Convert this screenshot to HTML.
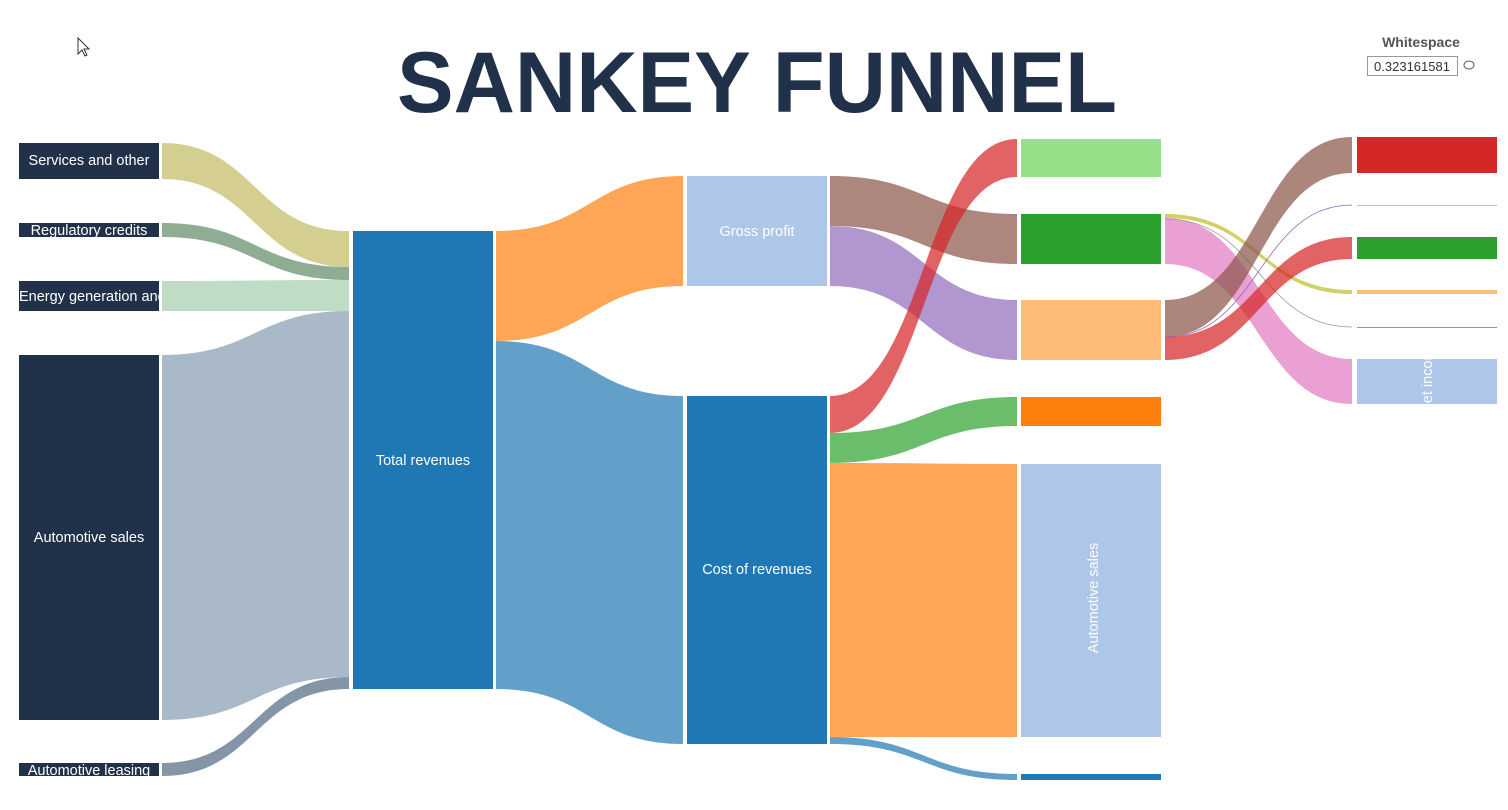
<!DOCTYPE html>
<html><head><meta charset="utf-8"><style>
html,body{margin:0;padding:0;background:#fff;width:1508px;height:810px;overflow:hidden}
text{font-family:"Liberation Sans",sans-serif}
</style></head><body>
<svg width="1508" height="810" viewBox="0 0 1508 810" xmlns="http://www.w3.org/2000/svg">
<defs>
<clipPath id="ni"><rect x="1357" y="359" width="140" height="45"/></clipPath>
<clipPath id="eg"><rect x="19" y="281" width="140" height="30"/></clipPath>
</defs>
<path d="M78 38 L78 54 L82 50 L85 56 L87 55 L84 49 L89 49 Z" fill="#fff" stroke="#333" stroke-width="1"/>
<text x="757" y="112" text-anchor="middle" font-size="86" font-weight="bold" fill="#22314a" textLength="720" lengthAdjust="spacingAndGlyphs">SANKEY FUNNEL</text>
<text x="1421" y="47" text-anchor="middle" font-size="14" font-weight="bold" fill="#555">Whitespace</text>
<rect x="1367.5" y="56.5" width="90" height="19" fill="#fff" stroke="#999"/>
<text x="1412" y="71" text-anchor="middle" font-size="13" fill="#333">0.323161581</text>
<ellipse cx="1469" cy="65" rx="5" ry="4" fill="none" stroke="#555"/>

<g>
<path d="M162 143 C255 143 255 231 349 231 L349 267 C255 267 255 179 162 179 Z" fill="#d4cf90"/>
<path d="M162 223 C255 223 255 267 349 267 L349 280 C255 280 255 237 162 237 Z" fill="#8fad93"/>
<path d="M162 281 C255 281 255 280 349 280 L349 311 C255 311 255 311 162 311 Z" fill="#bfdcc4"/>
<path d="M162 355 C255 355 255 311 349 311 L349 677 C255 677 255 720 162 720 Z" fill="#a9b9c7"/>
<path d="M162 763 C255 763 255 677 349 677 L349 689 C255 689 255 776 162 776 Z" fill="#8395a6"/>
</g>
<path d="M496 231 C590 231 590 176 683 176 L683 286 C590 286 590 341 496 341 Z" fill="#ffa556"/>
<path d="M496 341 C590 341 590 396 683 396 L683 744 C590 744 590 689 496 689 Z" fill="#62a0ca"/>
<path d="M830 176 C924 176 924 214 1017 214 L1017 264 C924 264 924 226 830 226 Z" fill="#ad877e"/>
<path d="M830 226 C924 226 924 300 1017 300 L1017 360 C924 360 924 286 830 286 Z" fill="#b196cf"/>
<path d="M830 463 C924 463 924 464 1017 464 L1017 737 C924 737 924 737 830 737 Z" fill="#ffa556"/>
<path d="M830 433 C924 433 924 397 1017 397 L1017 426 C924 426 924 463 830 463 Z" fill="#6abd6a"/>
<path d="M830 737 C924 737 924 774 1017 774 L1017 780 C924 780 924 744 830 744 Z" fill="#62a0ca"/>
<path d="M830 396 C924 396 924 139 1017 139 L1017 177 C924 177 924 433 830 433 Z" fill="#d62728" fill-opacity="0.72"/>
<path d="M1165 218 C1259 218 1259 359 1352 359 L1352 404 C1259 404 1259 264 1165 264 Z" fill="#e377c2" fill-opacity="0.7"/>
<path d="M1165 214 C1259 214 1259 290 1352 290 L1352 294 C1259 294 1259 218 1165 218 Z" fill="#bcbd22" fill-opacity="0.7"/>
<path d="M1165 219 C1259 219 1259 327 1352 327" fill="none" stroke="#999" stroke-width="0.8"/>
<path d="M1165 300 C1259 300 1259 137 1352 137 L1352 173 C1259 173 1259 337 1165 337 Z" fill="#8c564b" fill-opacity="0.72"/>
<path d="M1165 337 C1259 337 1259 205 1352 205" fill="none" stroke="#9467bd" stroke-width="0.8"/>
<path d="M1165 337 C1259 337 1259 237 1352 237 L1352 259 C1259 259 1259 360 1165 360 Z" fill="#d62728" fill-opacity="0.72"/>

<g fill="#22314a">
<rect x="19" y="143" width="140" height="36"/>
<rect x="19" y="223" width="140" height="14"/>
<rect x="19" y="281" width="140" height="30"/>
<rect x="19" y="355" width="140" height="365"/>
<rect x="19" y="763" width="140" height="13"/>
</g>
<g fill="#fff" font-size="14.5" text-anchor="middle">
<text x="89" y="165">Services and other</text>
<text x="89" y="235">Regulatory credits</text>
<g clip-path="url(#eg)"><text x="19" y="301" text-anchor="start">Energy generation and storage</text></g>
<text x="89" y="542">Automotive sales</text>
<text x="89" y="775">Automotive leasing</text>
</g>
<rect x="353" y="231" width="140" height="458" fill="#1f77b4"/>
<text x="423" y="465" fill="#fff" font-size="14.5" text-anchor="middle">Total revenues</text>
<rect x="687" y="176" width="140" height="110" fill="#aec7e8"/>
<text x="757" y="236" fill="#fff" font-size="14.5" text-anchor="middle">Gross profit</text>
<rect x="687" y="396" width="140" height="348" fill="#1f77b4"/>
<text x="757" y="574" fill="#fff" font-size="14.5" text-anchor="middle">Cost of revenues</text>
<rect x="1021" y="139" width="140" height="38" fill="#98df8a"/>
<rect x="1021" y="214" width="140" height="50" fill="#2ca02c"/>
<rect x="1021" y="300" width="140" height="60" fill="#ffbb78"/>
<rect x="1021" y="397" width="140" height="29" fill="#ff7f0e"/>
<rect x="1021" y="464" width="140" height="273" fill="#aec7e8"/>
<rect x="1021" y="774" width="140" height="6" fill="#1f77b4"/>
<text transform="translate(1098,598) rotate(-90)" fill="#fff" font-size="14.5" text-anchor="middle">Automotive sales</text>
<rect x="1357" y="137" width="140" height="36" fill="#d62728"/>
<rect x="1357" y="205" width="140" height="1" fill="#98df8a"/>
<rect x="1357" y="237" width="140" height="22" fill="#2ca02c"/>
<rect x="1357" y="290" width="140" height="4" fill="#ffbb78"/>
<rect x="1357" y="327" width="140" height="1" fill="#ff7f0e"/>
<rect x="1357" y="359" width="140" height="45" fill="#aec7e8"/>
<g clip-path="url(#ni)"><text transform="translate(1432,377) rotate(-90)" fill="#fff" font-size="14.5" text-anchor="middle">Net income</text></g>
</svg>
</body></html>
